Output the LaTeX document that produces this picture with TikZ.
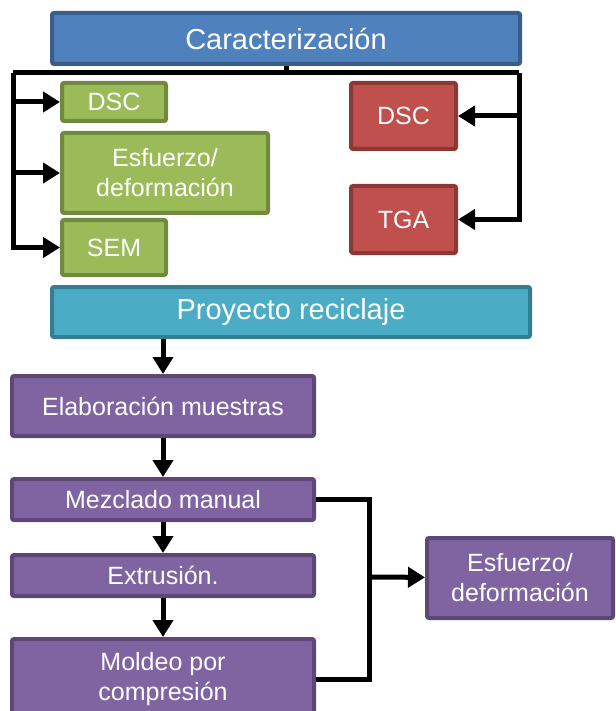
\documentclass[tikz,border=0pt]{standalone}
\usepackage{fontspec}
\setmainfont{Liberation Sans}
\usetikzlibrary{arrows.meta}

\definecolor{blueF}{HTML}{4F81BD}\definecolor{blueD}{HTML}{385D8A}
\definecolor{greenF}{HTML}{9BBB59}\definecolor{greenD}{HTML}{71893F}
\definecolor{redF}{HTML}{C0504D}\definecolor{redD}{HTML}{8C3836}
\definecolor{tealF}{HTML}{4BACC6}\definecolor{tealD}{HTML}{357D91}
\definecolor{purF}{HTML}{8064A2}\definecolor{purD}{HTML}{5C4776}

\begin{document}
\begin{tikzpicture}[x=1pt,y=-1pt,line width=5pt,
    >={Triangle[length=17pt,width=20pt]},
    box/.style={rectangle,rounded corners=2pt,line width=4pt,inner sep=0pt,
        align=center,text=white,font=\fontsize{25}{30}\selectfont},
    big/.style={box,font=\fontsize{29}{34}\selectfont},
    bluebox/.style={big,fill=blueF,draw=blueD},
    greenbox/.style={box,fill=greenF,draw=greenD},
    redbox/.style={box,fill=redF,draw=redD},
    tealbox/.style={big,fill=tealF,draw=tealD},
    purbox/.style={box,fill=purF,draw=purD}]
    \clip (0,0) rectangle (615,711);
    \node[bluebox,minimum width=468pt,minimum height=51pt] (car) at (286,38.5) {Caracterización};
    \node[greenbox,minimum width=104pt,minimum height=38pt] (g_dsc) at (114,102) {DSC};
    \node[greenbox,minimum width=206pt,minimum height=80pt] (g_esf) at (165,173) {Esfuerzo/\\deformación};
    \node[greenbox,minimum width=104pt,minimum height=55pt] (g_sem) at (114,247.5) {SEM};
    \node[redbox,minimum width=105pt,minimum height=66pt] (r_dsc) at (403.5,116) {DSC};
    \node[redbox,minimum width=105pt,minimum height=67pt] (r_tga) at (403.5,219.5) {TGA};
    \node[tealbox,minimum width=478pt,minimum height=50pt] (pro) at (291,312) {Proyecto reciclaje};
    \node[purbox,minimum width=302pt,minimum height=60pt] (elab) at (163,406) {Elaboración muestras};
    \node[purbox,minimum width=302pt,minimum height=41pt] (mez) at (163,499.5) {Mezclado manual};
    \node[purbox,minimum width=302pt,minimum height=41pt] (ext) at (163,575.5) {Extrusión.};
    \node[purbox,minimum width=302pt,minimum height=80pt] (mol) at (163,679) {Moldeo por\\compresión};
    \node[purbox,minimum width=186pt,minimum height=80pt] (p_esf) at (520,578) {Esfuerzo/\\deformación};

    \coordinate (c_l) at (13,73);
    \coordinate (c_r) at (519,73);
    \coordinate (c_j) at (369,577);

    % caracterizacion
    \draw (car.south) -- (car.south |- c_l);
    \draw (c_l) -- (c_r);
    \path[->]
    (c_l) edge [to path={|- (\tikztotarget)}] (g_dsc)
    (c_l) edge [to path={|- (\tikztotarget)}] (g_esf)
    (c_l) edge [to path={|- (\tikztotarget)}] (g_sem)
    (c_r) edge [to path={|- (\tikztotarget)}] (r_dsc)
    (c_r) edge [to path={|- (\tikztotarget)}] (r_tga);

    % reciclaje
    \path[->]
    (pro.south -| elab.north) edge (elab)
    (elab) edge (mez)
    (mez) edge (ext)
    (ext) edge (mol);
    \draw (mez.east) -| (c_j) |- (mol.east);
    \draw[->] (c_j) -- (p_esf);
\end{tikzpicture}
\end{document}
